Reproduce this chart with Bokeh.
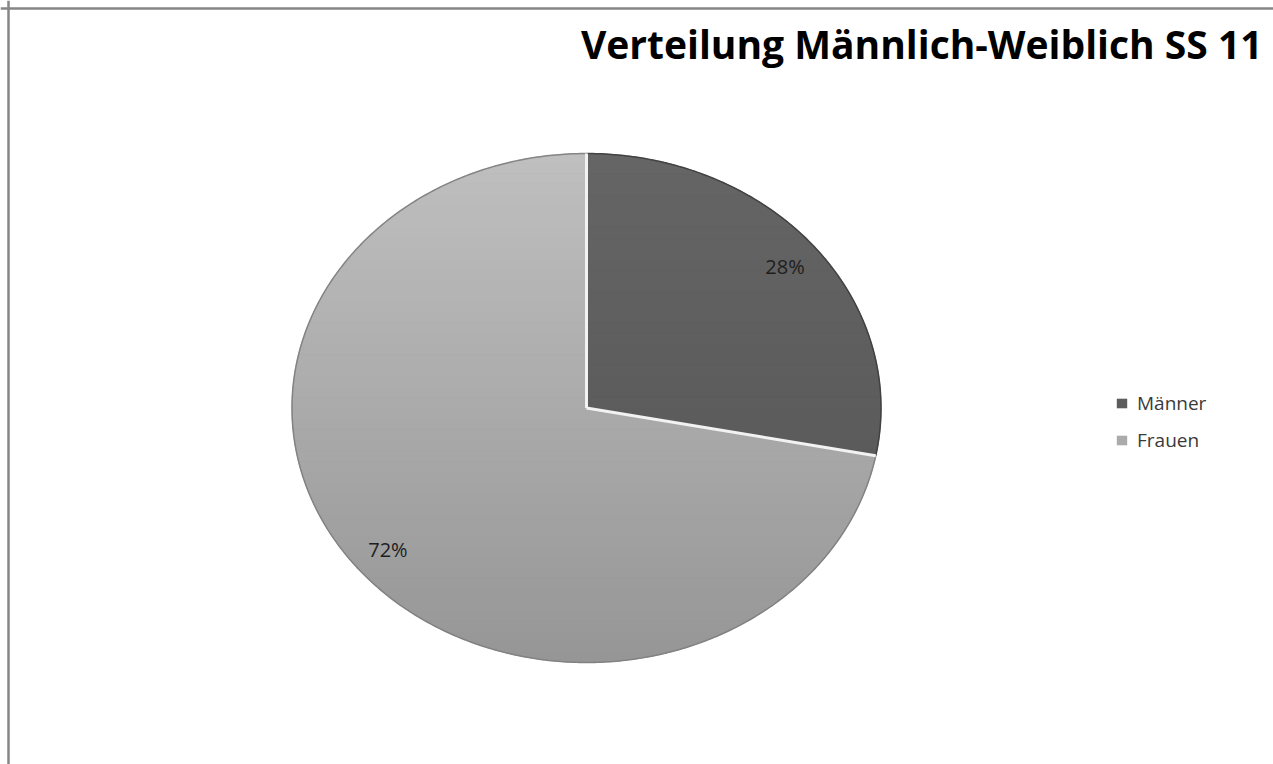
import numpy as np
from bokeh.plotting import figure
from bokeh.models import Range1d, Span, Label, Legend, LegendItem, ColumnDataSource
from bokeh.core.properties import value
from bokeh.embed import file_html
from bokeh.resources import INLINE

# ---- data ----
title_text = "Verteilung Männlich-Weiblich SS 11"
categories = ["Männer", "Frauen"]
shares = [28, 72]
pct_labels = ["28%", "72%"]
colors_mid = ["#5c5c5c", "#ababab"]
colors_top = ["#656565", "#bfbfbf"]
colors_bottom = ["#545454", "#969696"]
rim_colors = ["#3e3e3e", "#7e7e7e"]

# ---- layout (pixels) ----
W, H = 1273, 764
cx, cy, rx, ry = 586.0, 407.5, 294.5, 254.5

p = figure(width=W, height=H, x_range=Range1d(0, W), y_range=Range1d(H, 0),
           output_backend="svg", toolbar_location=None, min_border=0,
           x_axis_location=None, y_axis_location=None,
           outline_line_color=None, background_fill_color="white",
           border_fill_color="white")
p.grid.grid_line_color = None


def ell(t, f=1.0):
    return cx + f * rx * np.sin(t), cy - f * ry * np.cos(t)


fr = np.array(shares, dtype=float) / sum(shares)
ends = np.cumsum(fr) * 2 * np.pi
starts = ends - fr * 2 * np.pi
mids = (starts + ends) / 2

slice_xs, slice_ys, arc_xs, arc_ys = [], [], [], []
for s, e, f in zip(starts, ends, fr):
    n = max(8, int(f * 600))
    t = np.linspace(s, e, n)
    ax, ay = ell(t)
    slice_xs.append([cx] + list(ax))
    slice_ys.append([cy] + list(ay))
    arc_xs.append(list(ax))
    arc_ys.append(list(ay))

src = ColumnDataSource(dict(xs=slice_xs, ys=slice_ys, color=colors_mid, cat=categories))
r_full = p.patches("xs", "ys", source=src, fill_color="color", line_color=None)


# gradient bands via polygon clipping
def clip(poly, y0, keep_greater):
    out = []
    n = len(poly)
    for i in range(n):
        a = poly[i]
        b = poly[(i + 1) % n]
        ina = a[1] >= y0 if keep_greater else a[1] <= y0
        inb = b[1] >= y0 if keep_greater else b[1] <= y0
        if ina:
            out.append(a)
        if ina != inb:
            tt = (y0 - a[1]) / (b[1] - a[1])
            out.append((a[0] + tt * (b[0] - a[0]), y0))
    return out


def mix(c1, c2, t):
    a = [int(c1[i:i + 2], 16) for i in (1, 3, 5)]
    b = [int(c2[i:i + 2], 16) for i in (1, 3, 5)]
    return "#%02x%02x%02x" % tuple(int(round(a[k] + (b[k] - a[k]) * t)) for k in range(3))


nb = 48
edges = np.linspace(cy - ry - 1, cy + ry + 1, nb + 1)
bx, by, bc = [], [], []
for i in range(len(categories)):
    poly = list(zip(slice_xs[i], slice_ys[i]))
    for j in range(nb):
        q = clip(poly, edges[j], True)
        if len(q) < 3:
            continue
        q = clip(q, edges[j + 1], False)
        if len(q) < 3:
            continue
        tm = (0.5 * (edges[j] + edges[j + 1]) - (cy - ry)) / (2 * ry)
        c = mix(colors_top[i], colors_bottom[i], min(max(tm, 0), 1))
        bx.append([v[0] for v in q])
        by.append([v[1] for v in q])
        bc.append(c)
p.patches(bx, by, fill_color=bc, line_color=bc, line_width=1)

# outer rim
p.multi_line(arc_xs, arc_ys, line_color=rim_colors, line_width=1.5, line_alpha=0.9)

# radial edges highlight
rad_x, rad_y = [], []
for s in starts:
    ex, ey = ell(s)
    rad_x.append([cx, ex])
    rad_y.append([cy, ey])
p.multi_line(rad_x, rad_y, line_color="#f2f2f2", line_width=3)

# percentage labels
lx, ly = ell(mids, 0.875)
p.text(x=lx, y=ly, text=pct_labels, text_align="center", text_baseline="middle",
       text_font=value("Open Sans"), text_font_size="20px", text_color="#1e1e1e")

# title
p.add_layout(Label(x=1262, y=43, text=title_text, text_align="right",
                   text_baseline="alphabetic", text_font="Open Sans",
                   text_font_style="bold", text_font_size="39px",
                   text_color="#000000"))

# legend
legend = Legend(items=[LegendItem(label=categories[i], renderers=[r_full], index=i)
                       for i in range(len(categories))],
                location=(1115, 311), padding=0, margin=0, spacing=11,
                glyph_width=13, glyph_height=12, label_standoff=9, label_height=20,
                label_text_font="Open Sans", label_text_font_size="19px",
                label_text_color="#3a3a3a", border_line_color=None,
                background_fill_alpha=0)
p.add_layout(legend)

# frame lines (top and left)
p.add_layout(Span(location=8, dimension="width", line_color="#868686", line_width=2.5))
p.add_layout(Span(location=8, dimension="height", line_color="#868686", line_width=2.5))

open("out.html", "w").write(file_html(p, INLINE))
